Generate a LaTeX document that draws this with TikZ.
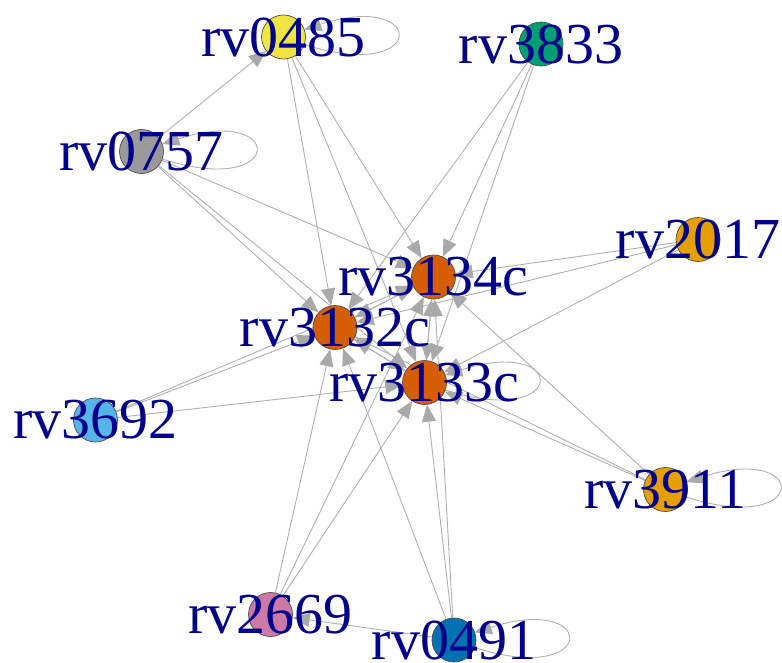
\documentclass[tikz,border=0pt]{standalone}
\usepackage{fontspec}
\setmainfont{Liberation Serif}
\usetikzlibrary{arrows.meta}
\definecolor{edgecol}{HTML}{B0B0B0}
\definecolor{tipcol}{HTML}{A9A9A9}
\definecolor{labcol}{HTML}{00008B}
\definecolor{cyel}{HTML}{F0E442}
\definecolor{cgrn}{HTML}{009E73}
\definecolor{cgry}{HTML}{999999}
\definecolor{corg}{HTML}{E69F00}
\definecolor{cver}{HTML}{D55E00}
\definecolor{csky}{HTML}{56B4E9}
\definecolor{cpur}{HTML}{CC79A7}
\definecolor{cblu}{HTML}{0072B2}
\pgfdeclarelayer{bg}
\pgfsetlayers{bg,main}
\newcommand\vloop[1]{\draw[edge] ([shift={(20.7,7.5)}]#1.center) .. controls +(124,40) and +(124,-40) .. ([shift={(20.7,-7.5)}]#1.center);}
\begin{document}
\begin{tikzpicture}[x=1pt,y=-1pt,
  vtx/.style={circle, draw=black!70, line width=0.7pt, minimum size=44pt, inner sep=0pt},
  lbl/.style={text=labcol, font=\fontsize{58}{58}\selectfont, inner sep=0pt},
  edge/.style={draw=edgecol, line width=0.9pt, -{Triangle[length=17pt,width=14pt,color=tipcol]}}]
\useasboundingbox (0,0) rectangle (782,662);
% vertices
\node[vtx, fill=cyel] (v0485) at (283.5,37) {};
\node[vtx, fill=cgrn] (v3833) at (541,44) {};
\node[vtx, fill=cgry] (v0757) at (141.5,151.5) {};
\node[vtx, fill=corg] (v2017) at (698,239.5) {};
\node[vtx, fill=cver] (v3134c) at (433.5,277) {};
\node[vtx, fill=cver] (v3132c) at (335,327.5) {};
\node[vtx, fill=cver] (v3133c) at (424.5,382.5) {};
\node[vtx, fill=csky] (v3692) at (95.5,420) {};
\node[vtx, fill=corg] (v3911) at (665.5,489.5) {};
\node[vtx, fill=cpur] (v2669) at (270.5,614.5) {};
\node[vtx, fill=cblu] (v0491) at (454,640) {};
% labels
\node[lbl] (l0485) at (v0485) {rv0485};
\node[lbl] (l3833) at (v3833) {rv3833};
\node[lbl] (l0757) at (v0757) {rv0757};
\node[lbl] (l2017) at (v2017) {rv2017};
\node[lbl] (l3134c) at (v3134c) {rv3134c};
\node[lbl] (l3132c) at (v3132c) {rv3132c};
\node[lbl] (l3133c) at (v3133c) {rv3133c};
\node[lbl] (l3692) at (v3692) {rv3692};
\node[lbl] (l3911) at (v3911) {rv3911};
\node[lbl] (l2669) at (v2669) {rv2669};
\node[lbl] (l0491) at (v0491) {rv0491};
% edges
\begin{pgfonlayer}{bg}
\draw[edge] (v0757) -- (v0485);
\foreach \s in {v0485,v3833,v0757,v2017,v3692,v3911,v2669,v0491}{
  \draw[edge] (\s) -- (v3132c);
  \draw[edge] (\s) -- (v3133c);
  \draw[edge] (\s) -- (v3134c);
}
\draw[edge] (v0491) -- (v2669);
\draw[edge] (v3132c) -- (v3133c);
\draw[edge] (v3133c) -- (v3132c);
\draw[edge] (v3132c) -- (v3134c);
\draw[edge] (v3134c) -- (v3132c);
\draw[edge] (v3133c) -- (v3134c);
\draw[edge] (v3134c) -- (v3133c);
\vloop{v0485}
\vloop{v0757}
\vloop{v3133c}
\vloop{v3911}
\vloop{v0491}
\end{pgfonlayer}
\end{tikzpicture}
\end{document}
